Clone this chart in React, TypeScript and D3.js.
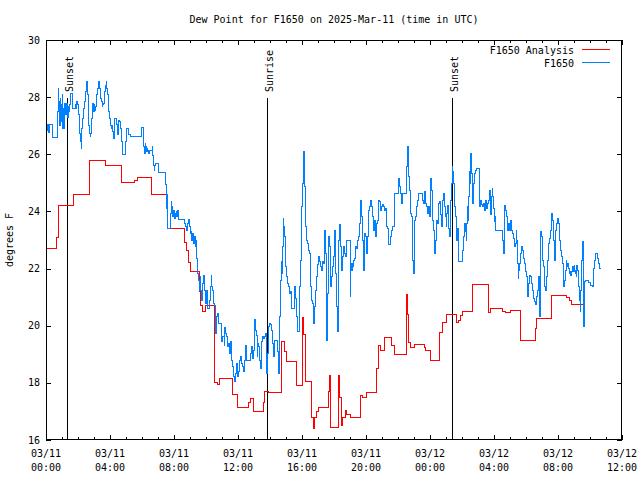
import React from "react";
import * as d3 from "d3";

const title = "Dew Point for F1650 on 2025-Mar-11 (time in UTC)";
const yLabel = "degrees F";
const yTicks = [16, 18, 20, 22, 24, 26, 28, 30];
const xMajorHours = [0, 4, 8, 12, 16, 20, 24, 28, 32, 36];
const xTickDates = ["03/11", "03/11", "03/11", "03/11", "03/11", "03/11", "03/12", "03/12", "03/12", "03/12"];
const xTickTimes = ["00:00", "04:00", "08:00", "12:00", "16:00", "20:00", "00:00", "04:00", "08:00", "12:00"];
const sunEvents: [number, string][] = [
  [1.33, "Sunset"],
  [13.79, "Sunrise"],
  [25.36, "Sunset"],
];
const seriesNames = ["F1650 Analysis", "F1650"];

// [hours since 03/11 00:00 UTC, dew point F]
const analysis: [number, number][] = [
  [0, 22.7], [0.67, 23.1], [0.75, 24.2], [1.69, 24.6], [2.71, 25.8], [3.71, 25.6],
  [4.73, 25.0], [5.56, 25.1], [5.69, 25.2], [6.6, 24.6], [7.58, 23.4], [8.63, 22.9],
  [8.75, 22.65], [8.88, 22.2], [9.0, 21.9], [9.58, 21.2], [9.66, 20.7], [9.81, 20.5],
  [9.94, 20.7], [10.56, 18.0], [10.69, 17.95], [10.83, 18.15], [11.67, 17.6], [11.96, 17.15],
  [12.63, 17.3], [12.75, 17.45], [12.94, 17.0], [13.58, 17.3], [13.63, 17.7], [13.88, 17.65],
  [14.69, 18.6], [14.72, 19.45], [14.88, 19.1], [15.0, 18.75], [15.66, 17.9], [16.03, 20.3],
  [16.09, 19.7], [16.19, 18.05], [16.59, 16.8], [16.72, 16.4], [16.81, 16.8], [16.91, 17.0],
  [17.0, 17.15], [17.63, 17.7], [17.72, 18.25], [17.78, 16.45], [18.28, 18.25], [18.34, 17.5],
  [18.44, 16.5], [18.56, 16.8], [18.69, 17.05], [18.81, 16.9], [19.0, 16.8], [19.63, 17.55],
  [19.75, 17.5], [20.04, 17.65], [20.66, 18.5], [20.75, 19.3], [20.88, 19.15], [21.13, 19.6],
  [21.6, 19.3], [21.81, 19.0], [22.56, 21.1], [22.6, 20.4], [22.66, 19.4], [22.75, 19.25],
  [23.02, 19.35], [23.63, 19.25], [23.72, 19.15], [24.0, 18.8], [24.6, 19.75], [24.75, 20.1],
  [25.04, 20.4], [25.67, 20.1], [25.81, 20.2], [25.91, 20.35], [26.0, 20.5], [26.64, 21.45],
  [27.63, 20.45], [27.75, 20.6], [28.5, 20.5], [28.69, 20.45], [29.0, 20.55], [29.63, 19.5],
  [30.58, 19.9], [30.66, 20.25], [31.61, 21.05], [32.56, 21.0], [32.69, 20.9], [32.86, 20.75],
  [33.58, 20.75],
];

const observed: [number, number][] = [
  [0, 26.85], [0.063, 27.05], [0.125, 26.75], [0.188, 27.05], [0.375, 26.6], [0.706, 27.49],
  [0.75, 28.31], [0.794, 27.84], [0.831, 27.0], [0.875, 27.96], [0.919, 27.73], [0.956, 27.14],
  [1.0, 28.08], [1.044, 26.91], [1.081, 27.61], [1.125, 26.91], [1.169, 27.78], [1.206, 27.38],
  [1.25, 27.73], [1.294, 27.78], [1.331, 27.28], [1.375, 27.67], [1.419, 27.49], [1.456, 27.73],
  [1.5, 28.13], [1.669, 27.61], [1.813, 27.75], [1.875, 27.61], [1.919, 27.84], [1.981, 27.73],
  [2.019, 27.38], [2.063, 27.14], [2.106, 26.73], [2.144, 26.44], [2.188, 26.21], [2.231, 26.91],
  [2.269, 27.26], [2.313, 27.61], [2.419, 27.84], [2.456, 28.19], [2.5, 28.37], [2.544, 28.54],
  [2.581, 28.08], [2.625, 27.61], [2.669, 27.02], [2.706, 26.73], [2.75, 26.62], [2.794, 26.73],
  [2.831, 27.26], [2.875, 27.61], [2.919, 27.78], [2.956, 27.49], [3.0, 27.73], [3.044, 27.55],
  [3.081, 27.67], [3.125, 27.84], [3.169, 28.08], [3.206, 28.31], [3.294, 28.54], [3.331, 28.31],
  [3.375, 28.13], [3.419, 27.96], [3.456, 27.84], [3.5, 27.67], [3.544, 27.73], [3.581, 27.78],
  [3.625, 27.84], [3.669, 28.19], [3.706, 28.42], [3.75, 28.54], [3.794, 28.31], [3.831, 28.08],
  [3.875, 27.84], [3.919, 27.49], [3.956, 27.26], [4.0, 27.14], [4.044, 27.02], [4.081, 26.91],
  [4.125, 27.02], [4.169, 26.79], [4.206, 26.56], [4.25, 26.73], [4.294, 27.26], [4.394, 27.03],
  [4.456, 26.68], [4.5, 27.08], [4.544, 27.2], [4.581, 27.14], [4.625, 27.02], [4.669, 26.91],
  [4.706, 26.44], [4.75, 26.15], [4.794, 26.0], [4.956, 26.44], [5.0, 26.79], [5.044, 26.91],
  [5.081, 26.91], [5.125, 26.73], [5.169, 26.68], [5.25, 26.64], [5.956, 26.93], [6.063, 26.44],
  [6.106, 26.27], [6.144, 26.03], [6.188, 26.38], [6.231, 26.27], [6.269, 26.09], [6.313, 26.2],
  [6.356, 26.15], [6.394, 26.03], [6.456, 26.15], [6.625, 26.27], [6.669, 25.97], [6.706, 25.62],
  [6.75, 25.45], [6.794, 25.62], [6.831, 25.68], [7.0, 25.5], [7.044, 25.37], [7.481, 24.93],
  [7.519, 24.1], [7.544, 24.6], [7.581, 23.41], [7.75, 23.93], [7.813, 24.34], [7.856, 24.17],
  [7.894, 23.82], [7.956, 24.05], [8.0, 23.76], [8.063, 23.93], [8.125, 23.99], [8.169, 23.84],
  [8.231, 24.05], [8.294, 23.72], [8.625, 23.58], [8.688, 23.49], [8.75, 23.35], [8.831, 23.58],
  [8.894, 23.72], [8.956, 23.47], [9.0, 23.23], [9.063, 23.29], [9.106, 23.0], [9.169, 23.23],
  [9.206, 22.88], [9.25, 23.12], [9.313, 22.77], [9.356, 23.0], [9.419, 22.36], [9.481, 21.83],
  [9.519, 21.6], [9.581, 21.25], [9.625, 21.72], [9.669, 21.25], [9.706, 20.9], [9.769, 21.48],
  [9.831, 21.77], [9.894, 21.25], [9.938, 20.78], [10.0, 21.25], [10.063, 20.61], [10.188, 20.9],
  [10.25, 21.37], [10.313, 21.77], [10.356, 21.37], [10.419, 21.25], [10.456, 20.78], [10.519, 20.72],
  [10.606, 19.73], [10.669, 20.32], [10.731, 20.43], [10.769, 20.08], [10.981, 19.44], [11.044, 19.62],
  [11.125, 19.32], [11.169, 19.94], [11.231, 19.73], [11.294, 19.62], [11.356, 19.27], [11.394, 19.38],
  [11.456, 19.03], [11.5, 19.44], [11.563, 18.8], [11.625, 18.57], [11.688, 18.22], [11.75, 18.04],
  [11.813, 18.33], [11.875, 18.57], [11.919, 18.68], [11.956, 18.22], [12.019, 18.39], [12.081, 18.8],
  [12.125, 18.92], [12.188, 18.68], [12.25, 18.57], [12.313, 18.39], [12.375, 18.8], [12.438, 19.32],
  [12.5, 18.8], [12.794, 19.03], [12.856, 19.27], [12.919, 18.86], [12.981, 19.15], [13.019, 20.22],
  [13.081, 19.85], [13.144, 19.67], [13.188, 18.92], [13.231, 19.38], [13.294, 19.27], [13.356, 18.8],
  [13.419, 18.51], [13.481, 19.44], [13.544, 19.62], [13.606, 19.56], [13.644, 19.62], [13.706, 19.73],
  [13.75, 18.98], [13.794, 18.33], [13.831, 19.03], [13.894, 19.97], [13.956, 20.08], [14.0, 20.03],
  [14.063, 19.85], [14.125, 19.38], [14.188, 18.92], [14.294, 19.5], [14.456, 19.09], [14.519, 18.33],
  [14.581, 20.32], [14.644, 21.6], [14.688, 22.24], [14.731, 21.83], [14.769, 22.77], [14.813, 23.76],
  [14.856, 23.47], [14.894, 23.12], [14.938, 22.53], [14.981, 22.07], [15.044, 21.72], [15.106, 21.48],
  [15.144, 21.37], [15.206, 21.13], [15.269, 21.19], [15.313, 20.9], [15.356, 20.61], [15.5, 21.37],
  [15.563, 21.13], [15.606, 20.96], [15.669, 20.32], [15.706, 19.79], [15.813, 20.32], [15.856, 21.37],
  [15.919, 22.3], [15.981, 24.17], [16.019, 24.98], [16.081, 26.09], [16.125, 25.22], [16.169, 24.87],
  [16.206, 23.47], [16.25, 23.23], [16.294, 23.0], [16.356, 22.88], [16.419, 22.65], [16.456, 22.53],
  [16.5, 22.13], [16.544, 21.37], [16.581, 20.9], [16.644, 20.78], [16.688, 20.55], [16.731, 20.08],
  [16.794, 20.67], [16.856, 21.25], [16.894, 21.72], [16.956, 22.13], [17.019, 22.42], [17.081, 22.24],
  [17.144, 22.07], [17.206, 21.95], [17.269, 22.24], [17.331, 22.18], [17.375, 23.0], [17.419, 23.35],
  [17.456, 22.53], [17.5, 21.48], [17.544, 19.5], [17.581, 21.13], [17.625, 23.12], [17.688, 22.77],
  [17.75, 21.72], [17.794, 21.37], [17.856, 21.72], [17.919, 22.07], [17.956, 22.42], [18.0, 23.35],
  [18.063, 21.83], [18.125, 21.48], [18.169, 20.67], [18.206, 19.79], [18.25, 21.02], [18.294, 23.0],
  [18.331, 23.53], [18.375, 23.0], [18.419, 22.77], [18.456, 21.95], [18.519, 22.42], [18.581, 22.77],
  [18.644, 22.53], [18.706, 22.42], [18.75, 22.7], [18.794, 23.0], [19.0, 21.02], [19.044, 22.18],
  [19.081, 21.95], [19.125, 22.18], [19.169, 22.07], [19.206, 22.3], [19.269, 22.36], [19.331, 22.77],
  [19.394, 22.71], [19.456, 23.0], [19.519, 23.12], [19.563, 23.58], [19.625, 24.17], [19.669, 24.4],
  [19.706, 23.82], [19.75, 23.58], [19.794, 23.0], [19.831, 21.95], [19.875, 22.88], [19.919, 23.23],
  [19.981, 23.12], [20.044, 22.53], [20.081, 23.12], [20.125, 23.58], [20.169, 24.05], [20.206, 24.17],
  [20.269, 24.4], [20.331, 24.17], [20.394, 23.82], [20.438, 23.47], [20.481, 23.35], [20.519, 23.7],
  [20.581, 23.12], [20.625, 23.23], [20.669, 23.58], [20.706, 23.7], [20.769, 24.4], [20.831, 24.34],
  [20.894, 24.05], [20.956, 24.17], [21.019, 24.23], [21.081, 24.17], [21.144, 24.05], [21.206, 24.11],
  [21.269, 23.47], [21.331, 23.41], [21.375, 22.83], [21.519, 23.12], [21.581, 23.35], [21.644, 23.47],
  [21.75, 24.05], [21.794, 24.63], [22.019, 25.16], [22.063, 24.87], [22.125, 24.63], [22.188, 24.28],
  [22.25, 24.63], [22.5, 24.87], [22.544, 25.57], [22.581, 26.27], [22.625, 25.8], [22.669, 25.22],
  [22.706, 24.75], [22.75, 24.46], [22.794, 23.93], [22.831, 23.82], [22.875, 23.23], [22.919, 22.3],
  [22.956, 21.83], [23.0, 22.88], [23.044, 23.7], [23.106, 23.82], [23.169, 24.17], [23.231, 24.4],
  [23.294, 24.63], [23.519, 24.4], [23.581, 24.28], [23.644, 24.69], [23.706, 24.28], [23.769, 24.17],
  [23.831, 23.93], [23.894, 24.17], [23.956, 23.82], [24.0, 24.52], [24.044, 25.16], [24.081, 24.75],
  [24.125, 24.17], [24.169, 23.7], [24.206, 23.35], [24.25, 23.12], [24.294, 22.53], [24.331, 23.0],
  [24.375, 23.47], [24.419, 23.7], [24.456, 23.58], [24.5, 23.93], [24.544, 24.28], [24.581, 24.34],
  [24.625, 24.05], [24.669, 23.88], [24.706, 23.47], [24.75, 23.82], [24.794, 24.4], [24.831, 24.63],
  [24.875, 24.52], [24.919, 24.17], [24.956, 23.82], [25.0, 23.47], [25.044, 23.93], [25.081, 24.22],
  [25.125, 23.7], [25.169, 23.41], [25.206, 23.12], [25.25, 24.05], [25.294, 24.4], [25.331, 24.98],
  [25.375, 25.57], [25.419, 25.39], [25.456, 24.98], [25.5, 24.4], [25.544, 24.17], [25.581, 23.82],
  [25.625, 23.47], [25.669, 23.0], [25.706, 23.41], [25.75, 22.24], [26.044, 22.65], [26.081, 23.12],
  [26.144, 23.58], [26.206, 23.29], [26.25, 23.0], [26.294, 23.58], [26.331, 24.17], [26.375, 23.7],
  [26.419, 24.52], [26.456, 25.39], [26.5, 24.98], [26.544, 26.03], [26.581, 25.33], [26.625, 24.4],
  [26.669, 24.28], [26.706, 24.98], [26.75, 25.33], [26.813, 25.45], [26.875, 25.51], [27.063, 24.87],
  [27.106, 24.17], [27.169, 24.4], [27.231, 24.23], [27.294, 24.17], [27.356, 24.28], [27.419, 24.05],
  [27.481, 24.4], [27.544, 24.11], [27.581, 24.28], [27.644, 24.4], [27.706, 24.75], [27.75, 23.88],
  [27.813, 24.52], [27.875, 24.81], [27.919, 24.52], [27.956, 24.11], [28.0, 23.64], [28.044, 23.82],
  [28.081, 23.35], [28.519, 23.0], [28.581, 22.53], [28.625, 23.58], [28.669, 24.22], [28.706, 24.05],
  [28.75, 23.82], [28.813, 23.35], [28.875, 23.58], [28.938, 23.35], [29.0, 23.7], [29.063, 23.35],
  [29.125, 23.23], [29.188, 23.06], [29.25, 22.77], [29.313, 22.88], [29.375, 23.35], [29.419, 23.0],
  [29.456, 22.18], [29.5, 21.66], [29.544, 21.95], [29.581, 22.18], [29.625, 22.36], [29.669, 22.53],
  [29.731, 22.77], [29.794, 22.65], [29.856, 22.36], [29.919, 22.18], [29.981, 21.89], [30.044, 21.72],
  [30.106, 21.02], [30.169, 21.48], [30.231, 21.77], [30.269, 21.72], [30.331, 21.48], [30.394, 21.25],
  [30.456, 20.96], [30.519, 20.84], [30.563, 20.73], [30.625, 21.02], [30.688, 21.25], [30.75, 21.54],
  [30.794, 21.72], [30.831, 20.32], [30.875, 22.65], [30.919, 23.29], [30.956, 23.12], [31.0, 22.65],
  [31.044, 22.3], [31.081, 22.07], [31.125, 21.72], [31.169, 21.37], [31.206, 21.25], [31.25, 21.48],
  [31.294, 21.72], [31.331, 22.3], [31.375, 22.65], [31.419, 22.88], [31.456, 23.06], [31.5, 23.35],
  [31.563, 23.7], [31.606, 23.93], [31.644, 23.7], [31.688, 23.35], [31.731, 23.0], [31.769, 22.3],
  [31.813, 23.0], [31.856, 23.35], [31.894, 23.58], [31.938, 23.7], [31.981, 23.76], [32.019, 23.58],
  [32.063, 23.35], [32.106, 23.0], [32.144, 22.65], [32.188, 22.53], [32.231, 22.42], [32.269, 22.18],
  [32.313, 21.72], [32.356, 21.37], [32.394, 21.6], [32.438, 21.95], [32.5, 22.3], [32.544, 22.18],
  [32.581, 22.07], [32.625, 22.18], [32.669, 22.0], [32.706, 21.83], [32.75, 21.89], [32.794, 21.77],
  [32.831, 21.89], [32.875, 22.07], [32.919, 22.07], [32.956, 21.89], [33.0, 22.12], [33.044, 21.95],
  [33.081, 21.83], [33.125, 21.72], [33.169, 22.12], [33.206, 21.95], [33.25, 21.6], [33.294, 21.37],
  [33.331, 20.9], [33.375, 20.49], [33.419, 21.25], [33.456, 22.3], [33.5, 22.53], [33.544, 22.94],
  [33.581, 19.97], [33.625, 20.78], [33.669, 21.54], [33.706, 21.6], [33.875, 21.5], [34.0, 21.42],
  [34.144, 21.37], [34.188, 21.78], [34.231, 22.0], [34.269, 22.3], [34.313, 22.47], [34.356, 22.53],
  [34.438, 22.36], [34.519, 22.18], [34.581, 22.0], [34.644, 21.97],
];

const W = 640;
const H = 480;
const L = 46;
const R = 622;
const T = 40;
const B = 440;
const FONT = "'DejaVu Sans Mono', monospace";

export default function App() {
  const x = d3.scaleLinear().domain([0, 36]).range([L, R]);
  const y = d3.scaleLinear().domain([16, 30]).range([B, T]);
  const line = d3
    .line<[number, number]>()
    .x((d) => x(d[0]))
    .y((d) => y(d[1]))
    .curve(d3.curveStepAfter);
  const minorHours = d3.range(0, 37);
  const legendY = [49.5, 62.5];
  const colors = ["#ff0000", "#0080ff"];

  return (
    <svg
      width={W}
      height={H}
      style={{ position: "absolute", left: 0, top: 0, background: "#fff" }}
      fontFamily={FONT}
      fontSize={10}
    >
      <rect x={0} y={0} width={W} height={H} fill="#fff" />
      <text x={(L + R) / 2} y={23} textAnchor="middle" fill="#000">
        {title}
      </text>
      <text transform={`translate(13,${(T + B) / 2}) rotate(-90)`} textAnchor="middle" fill="#000">
        {yLabel}
      </text>

      <g shapeRendering="crispEdges" stroke="#000" strokeWidth={1}>
        {minorHours.map((h) => {
          const major = h % 4 === 0;
          const len = major ? 5 : 3;
          const xx = Math.round(x(h)) + 0.5;
          return (
            <g key={"xt" + h}>
              <line x1={xx} x2={xx} y1={B} y2={B - len} />
              <line x1={xx} x2={xx} y1={T} y2={T + len} />
            </g>
          );
        })}
        {yTicks.map((v) => {
          const yy = Math.round(y(v)) + 0.5;
          return (
            <g key={"yt" + v}>
              <line x1={L} x2={L + 5} y1={yy} y2={yy} />
              <line x1={R} x2={R - 5} y1={yy} y2={yy} />
            </g>
          );
        })}
      </g>

      {yTicks.map((v) => (
        <text key={"yl" + v} x={L - 6} y={y(v) + 3.5} textAnchor="end" fill="#000">
          {v}
        </text>
      ))}
      {xMajorHours.map((h, i) => (
        <g key={"xl" + h}>
          <text x={x(h)} y={457} textAnchor="middle" fill="#000">
            {xTickDates[i]}
          </text>
          <text x={x(h)} y={471} textAnchor="middle" fill="#000">
            {xTickTimes[i]}
          </text>
        </g>
      ))}

      <g shapeRendering="crispEdges">
        {sunEvents.map(([h, label], i) => {
          const xx = Math.round(x(h)) + 0.5;
          return (
            <g key={"sun" + i}>
              <line x1={xx} x2={xx} y1={98} y2={B} stroke="#000" strokeWidth={1} />
              <text
                transform={`translate(${xx + 5},92) rotate(-90)`}
                textAnchor="start"
                fill="#000"
                shapeRendering="auto"
              >
                {label}
              </text>
            </g>
          );
        })}
      </g>

      <path d={line(analysis) || ""} fill="none" stroke={colors[0]} strokeWidth={1} shapeRendering="crispEdges" />
      <path d={line(observed) || ""} fill="none" stroke={colors[1]} strokeWidth={1} shapeRendering="crispEdges" />

      {seriesNames.map((name, i) => (
        <g key={"lg" + i}>
          <text x={574} y={legendY[i] + 4} textAnchor="end" fill="#000">
            {name}
          </text>
          <line
            x1={582}
            x2={610}
            y1={legendY[i]}
            y2={legendY[i]}
            stroke={colors[i]}
            strokeWidth={1}
            shapeRendering="crispEdges"
          />
        </g>
      ))}

      <rect
        x={L + 0.5}
        y={T + 0.5}
        width={R - L - 1}
        height={B - T - 1}
        fill="none"
        stroke="#000"
        strokeWidth={1}
        shapeRendering="crispEdges"
      />
    </svg>
  );
}
